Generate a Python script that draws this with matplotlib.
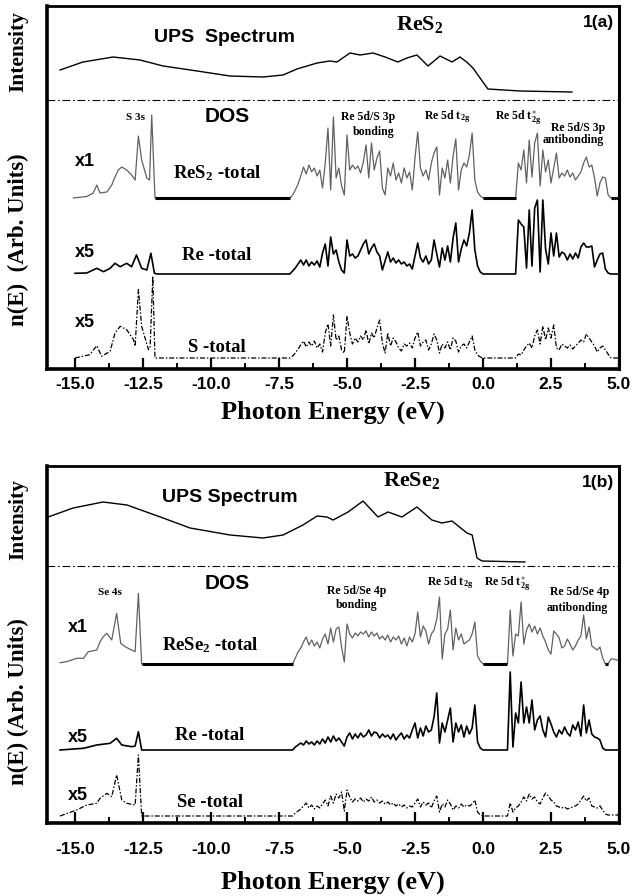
import numpy as np
import matplotlib
matplotlib.use("Agg")
import matplotlib.pyplot as plt

plt.rcParams['font.family'] = ['Liberation Serif', 'DejaVu Serif']
plt.rcParams['mathtext.fontset'] = 'custom'
plt.rcParams['mathtext.rm'] = 'Liberation Serif:bold'
plt.rcParams['mathtext.it'] = 'Liberation Serif:italic:bold'
plt.rcParams['mathtext.bf'] = 'Liberation Serif:bold'

# ---------------- data: panel (a) ReS2 ----------------
ups_a_E = [-15.55, -14.71, -13.60, -12.61, -11.76, -10.51, -9.30, -8.09, -7.35, -6.84, -6.10,
           -5.63, -5.37, -4.89, -4.52, -4.04, -3.60, -3.13, -2.80, -2.43, -2.02, -1.58, -1.14,
           -0.85, -0.60, -0.37, 0.18, 1.36, 3.27]
ups_a_I = [30, 38, 43, 40, 34, 29, 24, 23, 25, 31, 37, 39, 38, 47, 45, 47, 43, 38, 42, 45, 34,
           44, 38, 43, 38, 32, 11, 9, 8]

core_a_tot_E = [-15.06, -14.57, -14.33, -14.20, -14.08, -13.83, -13.65, -13.53, -13.41, -13.28,
                -13.10, -12.92, -12.79, -12.67, -12.55, -12.36, -12.26, -12.18, -12.06]
core_a_tot_n = [0, 1.5, 5, 13, 5, 6, 13, 21, 28, 31, 28, 23, 18, 62, 38, 20, 18, 83, 0]
core_a_re_E = [-15.0, -14.57, -14.20, -13.95, -13.71, -13.53, -13.34, -13.10, -12.92, -12.74,
               -12.55, -12.36, -12.21, -12.08, -11.97]
core_a_re_n = [0.7, 1, 5.7, 2.3, 5.7, 10.7, 7.3, 10.7, 7.3, 19, 5.7, 4, 20.7, 0.7, 0]
core_a_s_E = [-15.0, -14.46, -14.20, -14.02, -13.71, -13.53, -13.34, -13.10, -12.85, -12.79,
              -12.67, -12.55, -12.30, -12.24, -12.14, -12.06]
core_a_s_n = [0, 3.3, 12.3, 1.7, 6.7, 25, 31.7, 28.3, 18.3, 11.7, 68.3, 31.7, 8.3, 10, 81.7, 0]

val_a_start = -7.1   # valence-band sampling, 0.1 eV steps
val_a_tot = [0, 3, 8, 14, 22, 31, 24, 33, 26, 30,
             22, 28, 10, 35, 70, 8, 81, 20, 30, 12,
             3, 63, 28, 33, 29, 32, 25, 36, 53, 20,
             55, 28, 40, 47, 10, 3, 30, 22, 35, 18,
             25, 15, 30, 20, 26, 8, 40, 66, 30, 22,
             28, 18, 35, 45, 51, 3, 30, 20, 38, 15,
             42, 59, 8, 28, 35, 31, 43, 65, 18, 6,
             2, 0]
val_a_re = [0, 3, 6, 10, 14, 9, 14, 8, 12, 9,
            13, 7, 21, 30, 8, 37, 20, 24, 12, 4,
            1, 34, 18, 20, 16, 18, 24, 30, 34, 20,
            26, 30, 22, 18, 4, 13, 22, 12, 16, 11,
            14, 10, 12, 8, 10, 5, 18, 31, 16, 12,
            18, 10, 14, 34, 20, 7, 26, 14, 28, 12,
            36, 51, 12, 25, 34, 28, 41, 64, 24, 8,
            2, 0]
val_a_s = [0, 2, 5, 9, 13, 17, 11, 16, 12, 17,
           10, 14, 6, 25, 34, 12, 43, 18, 22, 8,
           5, 42, 25, 14, 20, 16, 22, 18, 28, 14,
           25, 20, 30, 38, 15, 5, 25, 12, 20, 16,
           10, 7, 14, 12, 15, 10, 20, 26, 12, 16,
           18, 8, 14, 24, 18, 5, 14, 10, 16, 8,
           20, 17, 6, 12, 14, 10, 16, 22, 8, 3,
           1, 0]

cond_a_start = 1.2   # conduction-band sampling, 0.1 eV steps
cond_a_tot = [0, 35, 28, 48, 15, 58, 21, 55, 65, 12,
              48, 26, 38, 15, 30, 45, 20, 25, 22, 28,
              21, 25, 18, 22, 26, 35, 41, 31, 33, 20,
              2, 15, 21, 20, 3, 0, 0, 0, 0]
cond_a_re = [0, 54, 50, 47, 6, 64, 8, 66, 74, 2,
             74, 25, 10, 41, 18, 41, 17, 22, 20, 14,
             20, 15, 21, 16, 27, 31, 27, 27, 28, 7,
             14, 20, 21, 5, 1, 0, 0, 0, 0]
cond_a_s = [0, 4, 3, 8, 12, 15, 10, 22, 28, 14,
            32, 18, 30, 20, 33, 10, 8, 14, 12, 10,
            13, 9, 12, 15, 18, 16, 24, 20, 16, 12,
            6, 10, 12, 8, 4, 0, 0, 0, 0]

# ---------------- data: panel (b) ReSe2 ----------------
ups_b_E = [-15.99, -15.07, -13.97, -13.09, -11.76, -10.77, -9.30, -8.09, -7.35, -6.62, -6.10,
           -5.74, -5.51, -4.96, -4.41, -3.86, -3.49, -2.98, -2.43, -1.88, -1.51, -1.14, -0.59,
           -0.40, -0.22, -0.04, 1.54]
ups_b_I = [49, 58, 64, 61, 48, 38, 31, 28, 31, 41, 50, 49, 46, 54, 65, 49, 54, 49, 59, 46, 43,
           45, 33, 31, 8, 5, 4]

core_b_tot_E = [-15.55, -15.31, -14.94, -14.69, -14.51, -14.20, -14.08, -13.96, -13.83, -13.65,
                -13.47, -13.32, -13.16, -12.92, -12.79, -12.67, -12.55]
core_b_tot_n = [1.3, 2.3, 5.7, 5.7, 12.3, 14, 22.3, 27.3, 30.7, 24, 50.7, 20.7, 17.3, 14, 12.3,
                70.7, 0]
core_b_re_E = [-15.55, -14.69, -14.20, -13.71, -13.47, -13.28, -12.92, -12.79, -12.67, -12.55]
core_b_re_n = [0, 1.7, 5, 6.7, 11.7, 5, 3.3, 4, 18.3, 0]
core_b_se_E = [-15.55, -14.94, -14.57, -14.20, -14.08, -13.83, -13.65, -13.47, -13.28, -13.10,
               -12.79, -12.67, -12.55]
core_b_se_n = [0, 6, 11, 12.7, 17.7, 22.7, 19.3, 41, 16, 12.7, 11, 61, 0]

val_b_start = -7.0
val_b_tot = [0, 6, 12, 16, 22, 27, 19, 24, 18, 22,
             16, 25, 30, 20, 36, 22, 35, 37, 17, 2,
             40, 30, 26, 31, 28, 32, 30, 33, 27, 32,
             28, 31, 25, 28, 24, 29, 22, 27, 24, 28,
             20, 26, 18, 27, 22, 30, 52, 27, 38, 33,
             20, 30, 34, 45, 67, 5, 30, 35, 54, 14,
             36, 24, 30, 20, 22, 24, 30, 42, 8, 3,
             0]
val_b_re = [0, 3, 5, 7, 5, 9, 6, 8, 5, 9,
            6, 11, 7, 13, 8, 14, 9, 12, 8, 4,
            13, 17, 11, 16, 12, 17, 13, 15, 20, 14,
            18, 17, 12, 16, 13, 15, 11, 16, 10, 14,
            17, 11, 15, 12, 20, 27, 12, 22, 14, 24,
            18, 20, 33, 57, 7, 27, 18, 30, 42, 8,
            27, 18, 25, 13, 24, 16, 22, 45, 8, 2,
            0]
val_b_se = [0, 3, 5, 7, 10, 13, 8, 11, 7, 10,
            8, 12, 16, 10, 20, 13, 22, 18, 24, 5,
            26, 19, 14, 17, 15, 18, 14, 17, 15, 19,
            14, 16, 13, 15, 12, 14, 11, 13, 10, 12,
            9, 11, 8, 10, 9, 13, 17, 9, 14, 11,
            13, 8, 15, 20, 4, 12, 9, 16, 12, 6,
            10, 8, 12, 9, 11, 10, 12, 16, 4, 1,
            0]

cond_b_start = 0.9
cond_b_tot = [0, 54, 8, 30, 28, 62, 20, 34, 40, 32,
              38, 30, 36, 28, 22, 14, 10, 33, 30, 26,
              16, 18, 25, 20, 14, 18, 24, 28, 49, 25,
              37, 18, 16, 14, 17, 6, 0, 0, 5, 5,
              4, 4]
cond_b_re = [0, 78, 3, 37, 27, 68, 27, 43, 27, 50,
             20, 30, 34, 20, 13, 33, 26, 18, 13, 20,
             16, 23, 17, 14, 25, 20, 28, 14, 45, 17,
             30, 16, 13, 12, 10, 2, 0, 0, 0, 0,
             0, 0]
cond_b_se = [0, 13, 4, 8, 10, 14, 19, 15, 22, 17,
             19, 14, 12, 18, 23, 20, 16, 14, 10, 9,
             8, 9, 7, 8, 9, 10, 12, 16, 20, 15,
             18, 10, 9, 8, 10, 6, 2, 1, 1, 1,
             1, 1]

x_major = [-15.0, -12.5, -10.0, -7.5, -5.0, -2.5, 0.0, 2.5, 5.0]
x_labels = ['-15.0', '-12.5', '-10.0', '-7.5', '-5.0', '-2.5', '0.0', '2.5', '5.0']

# ---------------------------------------------------------
W, Hfig = 633, 896
fig = plt.figure(figsize=(W / 100, Hfig / 100), dpi=100)

SANS = dict(family='Liberation Sans', weight='bold')
SERIF = dict(family='Liberation Serif', weight='bold')
STEP = 0.1


def grid(start, vals):
    return start + STEP * np.arange(len(vals))


def series(core_E, core_n, vstart, vvals, cstart, cvals):
    E = np.concatenate([np.asarray(core_E, float), grid(vstart, vvals), grid(cstart, cvals)])
    n = np.concatenate([np.asarray(core_n, float), np.asarray(vvals, float), np.asarray(cvals, float)])
    return E, n


def plot_total(ax, E, n, off):
    ax.plot(E, off + n, color='0.38', lw=0.9)
    z = n == 0
    for i in range(len(E) - 1):
        if z[i] and z[i + 1]:
            ax.plot(E[i:i + 2], off + n[i:i + 2], color='k', lw=2.2, solid_capstyle='butt')


def panel(top_px, bot_px, offs, ups_E, ups_I, tot, re, part, labels, pad, xlab_dy):
    H = bot_px - top_px
    l, r = 47, 619
    ax = fig.add_axes([l / W, 1 - bot_px / Hfig, (r - l) / W, H / Hfig])
    ax.set_xlim(-16.03, 5.0)
    ax.set_ylim(0, H)
    o_ups, o_tot, o_re, o_part = offs
    ax.plot(ups_E, o_ups + np.asarray(ups_I), color='k', lw=1.0)
    ax.axhline(o_ups, color='k', lw=0.8, ls=(0, (7, 2.5, 1.5, 2.5)))
    plot_total(ax, *tot, o_tot)
    ax.plot(re[0], o_re + re[1], color='k', lw=1.2)
    ax.plot(part[0], o_part + part[1], color='k', lw=0.9, ls=(0, (4, 1.5, 1.2, 1.5)))

    ax.set_xticks(x_major)
    ax.set_xticklabels(x_labels, **SANS, fontsize=12.5)
    ax.set_xticks([v + 1.25 for v in x_major[:-1]], minor=True)
    ax.set_yticks([])
    ax.tick_params(axis='x', which='major', direction='in', length=8, width=1.6, pad=pad,
                   top=False)
    ax.tick_params(axis='x', which='minor', direction='in', length=4, width=1.4, top=False)
    for s, w in (('left', 2.6), ('bottom', 2.6), ('top', 2.0), ('right', 2.2)):
        ax.spines[s].set_linewidth(w)

    ax.text(0.5, -xlab_dy / H, 'Photon Energy (eV)', transform=ax.transAxes, ha='center',
            va='center', fontsize=19, **SERIF)
    for (x, y, s, kw) in labels:
        ax.text(x, y, s, ha='center', va='center', **kw)
    return ax, H


lab_a = [
    (-9.49, 331, 'UPS  Spectrum', dict(fontsize=14, **SANS)),
    (-2.32, 344, r'ReS$_{\mathrm{2}}$', dict(fontsize=16, **SERIF)),
    (4.23, 346, '1(a)', dict(fontsize=12.5, **SANS)),
    (-9.41, 252, 'DOS', dict(fontsize=15, **SANS)),
    (-12.79, 252, 'S 3s', dict(fontsize=8, **SERIF)),
    (-14.63, 207, 'x1', dict(fontsize=13, **SANS)),
    (-9.78, 196, r'ReS$_{\mathrm{2}}$ -total', dict(fontsize=13.5, **SERIF)),
    (-14.63, 117, 'x5', dict(fontsize=13, **SANS)),
    (-9.78, 114, 'Re -total', dict(fontsize=13.5, **SERIF)),
    (-14.63, 47, 'x5', dict(fontsize=13, **SANS)),
    (-9.78, 22, 'S -total', dict(fontsize=13.5, **SERIF)),
    (-4.23, 252, 'Re 5d/S 3p', dict(fontsize=8.5, **SERIF)),
    (-4.04, 237, 'bonding', dict(fontsize=8.5, **SERIF)),
    (-1.32, 252, r'Re 5d t$_{\mathrm{2g}}$', dict(fontsize=8.5, **SERIF)),
    (1.29, 252, r'Re 5d t$_{\mathrm{2g}}^{\ast}$', dict(fontsize=8.5, **SERIF)),
    (3.49, 241, 'Re 5d/S 3p', dict(fontsize=8.5, **SERIF)),
    (3.31, 229, 'antibonding', dict(fontsize=8.5, **SERIF)),
]
lab_b = [
    (-9.30, 326, 'UPS Spectrum', dict(fontsize=14, **SANS)),
    (-2.61, 343, r'ReSe$_{\mathrm{2}}$', dict(fontsize=16, **SERIF)),
    (4.23, 341, '1(b)', dict(fontsize=12.5, **SANS)),
    (-9.41, 240, 'DOS', dict(fontsize=15, **SANS)),
    (-13.71, 231, 'Se 4s', dict(fontsize=8, **SERIF)),
    (-14.89, 196, 'x1', dict(fontsize=13, **SANS)),
    (-10.04, 178, r'ReSe$_{\mathrm{2}}$ -total', dict(fontsize=13.5, **SERIF)),
    (-14.89, 86, 'x5', dict(fontsize=13, **SANS)),
    (-10.04, 88, 'Re -total', dict(fontsize=13.5, **SERIF)),
    (-14.89, 28, 'x5', dict(fontsize=13, **SANS)),
    (-10.04, 21, 'Se -total', dict(fontsize=13.5, **SERIF)),
    (-4.63, 232, 'Re 5d/Se 4p', dict(fontsize=8.5, **SERIF)),
    (-4.63, 218, 'bonding', dict(fontsize=8.5, **SERIF)),
    (-1.21, 240, r'Re 5d t$_{\mathrm{2g}}$', dict(fontsize=8.5, **SERIF)),
    (0.88, 240, r'Re 5d t$_{\mathrm{2g}}^{\ast}$', dict(fontsize=8.5, **SERIF)),
    (3.57, 231, 'Re 5d/Se 4p', dict(fontsize=8.5, **SERIF)),
    (3.46, 215, 'antibonding', dict(fontsize=8.5, **SERIF)),
]

tot_a = series(core_a_tot_E, core_a_tot_n, val_a_start, val_a_tot, cond_a_start, cond_a_tot)
re_a = series(core_a_re_E, core_a_re_n, val_a_start, val_a_re, cond_a_start, cond_a_re)
s_a = series(core_a_s_E, core_a_s_n, val_a_start, val_a_s, cond_a_start, cond_a_s)
tot_b = series(core_b_tot_E, core_b_tot_n, val_b_start, val_b_tot, cond_b_start, cond_b_tot)
re_b = series(core_b_re_E, core_b_re_n, val_b_start, val_b_re, cond_b_start, cond_b_re)
se_b = series(core_b_se_E, core_b_se_n, val_b_start, val_b_se, cond_b_start, cond_b_se)

axa, Ha = panel(6, 369, (269, 171, 95, 11), ups_a_E, ups_a_I, tot_a, re_a, s_a, lab_a,
                pad=6, xlab_dy=43)
axb, Hb = panel(466, 823, (257, 159, 73, 7), ups_b_E, ups_b_I, tot_b, re_b, se_b, lab_b,
                pad=14, xlab_dy=59)

# y-axis labels
axa.text(-29 / 572, (369 - 52) / Ha, 'Intensity', transform=axa.transAxes, rotation=90,
         ha='center', va='center', fontsize=15.5, **SERIF)
axa.text(-29 / 572, (369 - 240) / Ha, 'n(E)  (Arb. Units)', transform=axa.transAxes,
         rotation=90, ha='center', va='center', fontsize=16.5, **SERIF)
axb.text(-29 / 572, (823 - 520) / Hb, 'Intensity', transform=axb.transAxes, rotation=90,
         ha='center', va='center', fontsize=15.5, **SERIF)
axb.text(-29 / 572, (823 - 702) / Hb, 'n(E) (Arb. Units)', transform=axb.transAxes,
         rotation=90, ha='center', va='center', fontsize=16.5, **SERIF)

fig.savefig('out.png', dpi=100)
